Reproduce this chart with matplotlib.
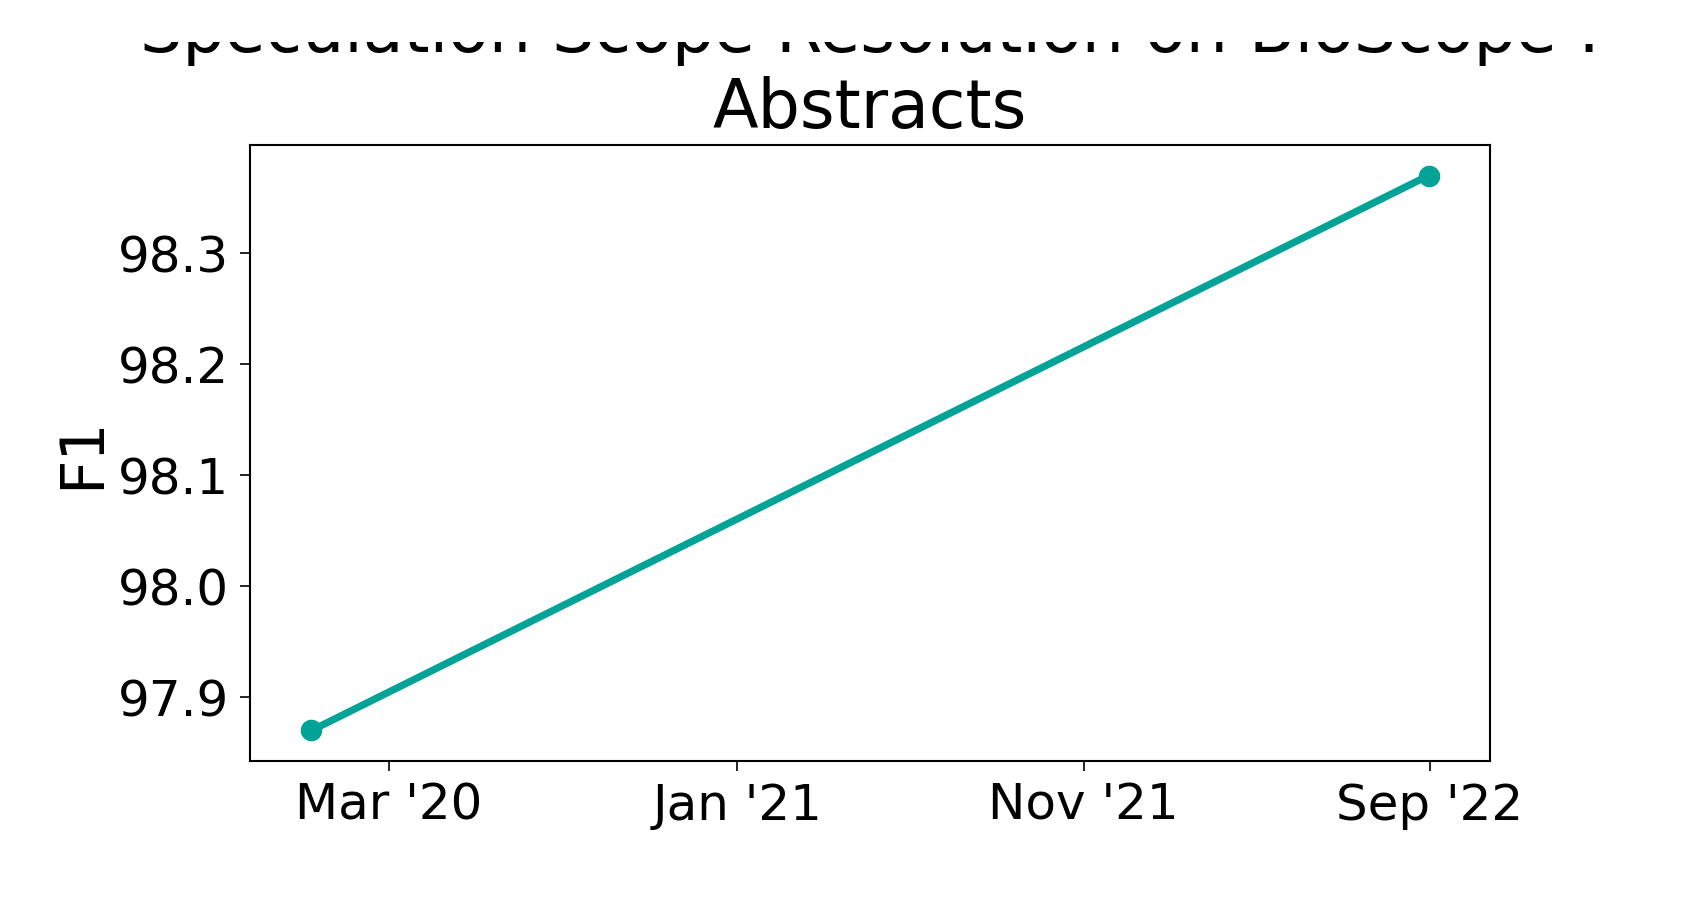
import matplotlib
matplotlib.use("Agg")
import matplotlib.pyplot as plt
from matplotlib.patches import Rectangle
import pandas as pd

# Data
dates = ["2019-12-24", "2022-08-31"]
f1_scores = [97.87, 98.37]
xtick_dates = ["2020-03-01", "2021-01-01", "2021-11-01", "2022-09-01"]
xtick_labels = ["Mar '20", "Jan '21", "Nov '21", "Sep '22"]
ytick_values = [97.9, 98.0, 98.1, 98.2, 98.3]
title_text = "Speculation Scope Resolution on BioScope :\nAbstracts"
ylabel_text = "F1"

fig = plt.figure(figsize=(17, 9), dpi=100)
ax = fig.add_axes([250/1700, 1 - 761/900, (1490-250)/1700, (761-145)/900])

x = pd.to_datetime(dates)
ax.plot(x, f1_scores, color="#00A396", linewidth=5.2, marker="o", markersize=14.5)
ax.margins(x=0.055, y=0.055)

ax.set_xticks(pd.to_datetime(xtick_dates))
ax.set_xticklabels(xtick_labels)
ax.set_yticks(ytick_values)
ax.set_yticklabels([f"{v:.1f}" for v in ytick_values])
ax.tick_params(axis="both", labelsize=36, length=7, width=1.2, pad=8)
for s in ax.spines.values():
    s.set_linewidth(1.5)

ax.set_ylabel(ylabel_text, fontsize=43)
ax.set_title(title_text, fontsize=48, pad=12)

# the top of the first title line is cut off in the original
fig.patches.append(Rectangle((0, 1 - 42/900), 1, 42/900, transform=fig.transFigure,
                             facecolor="white", edgecolor="none", zorder=10))

fig.savefig("out.png", dpi=100)
